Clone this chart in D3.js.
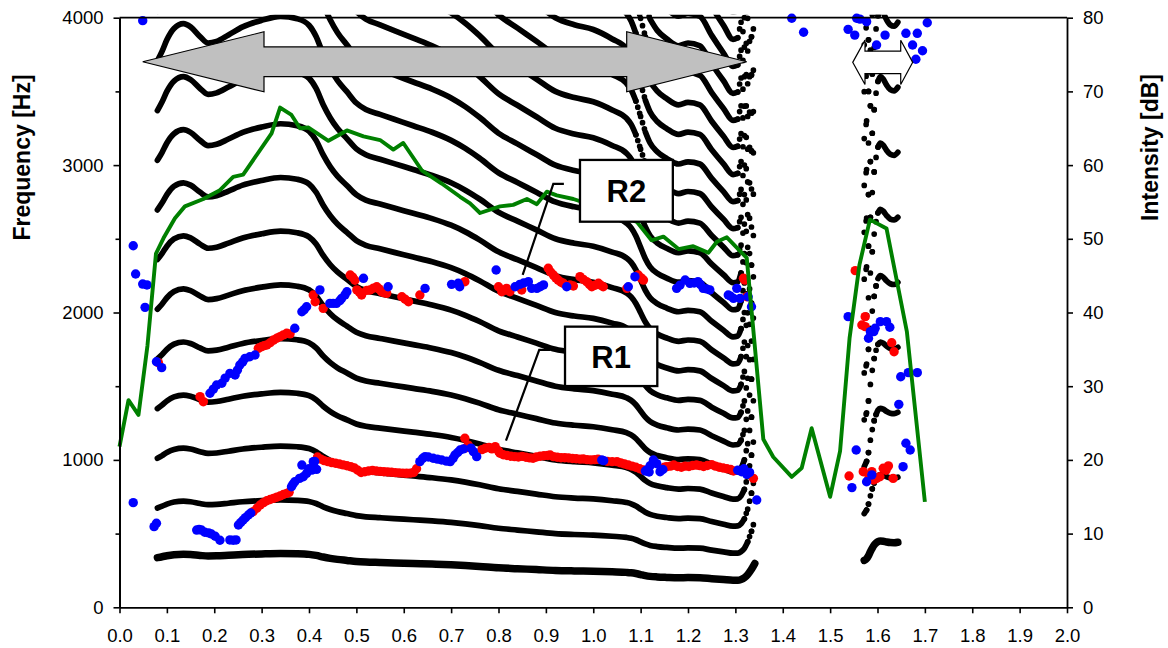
<!DOCTYPE html>
<html><head><meta charset="utf-8">
<script src="https://cdn.jsdelivr.net/npm/d3@7/dist/d3.min.js"></script>
<style>
html,body{margin:0;padding:0;background:#fff;}
svg{display:block;}
</style></head>
<body>
<svg id="chart" width="1168" height="648"></svg>
<script>
// ---------------- DATA ----------------
const timeTicks = [0.0,0.1,0.2,0.3,0.4,0.5,0.6,0.7,0.8,0.9,1.0,1.1,1.2,1.3,1.4,1.5,1.6,1.7,1.8,1.9,2.0];
const freqTicks = [0,1000,2000,3000,4000];
const freqMinorTicks = [500,1500,2500,3500];
const intensityTicks = [0,10,20,30,40,50,60,70,80];
const harmonicNumbers = [1,2,3,4,5,6,7,8,9,10,11,12,13,14,15,16,17,18,19,20,21,22,23,24,25];

// fundamental frequency contour (s, Hz) of the two voiced stretches
const f0Voiced1 = [
[0.080,337],[0.090,343],[0.100,350],[0.115,357],[0.135,360],[0.150,358],[0.170,352],[0.187,348],[0.205,349],[0.230,353],
[0.260,358],[0.300,362],[0.340,364.5],[0.375,363],[0.400,359],[0.415,352],[0.430,341],[0.445,332],[0.460,325],[0.480,318],
[0.500,311],[0.520,307],[0.550,304],[0.580,301],[0.620,297],[0.660,293],[0.700,288],[0.730,283],[0.760,277],[0.800,268],
[0.840,262],[0.880,256],[0.920,250],[0.960,247],[1.000,245],[1.040,241],[1.070,237],[1.080,234],[1.090,229],[1.100,222],
[1.110,215],[1.120,210],[1.135,206],[1.155,203],[1.180,200.5],[1.200,201.5],[1.225,200.5],[1.250,194],[1.275,188],[1.295,183.5],
[1.305,184],[1.312,189],[1.319,200],[1.326,222],[1.334,258],[1.341,297]
];
const f0Voiced2 = [
[1.572,318],[1.577,330],[1.581,350],[1.585,378],[1.589,402],[1.593,422],[1.597,436],[1.601,446],[1.606,450],[1.612,448],
[1.619,443],[1.627,439],[1.635,438],[1.643,441]
];

// intensity (s, dB)
const intensity = [
[0.000,21.8],[0.019,28.1],[0.040,26.1],[0.059,35.5],[0.077,48.0],[0.093,50.1],[0.117,52.8],[0.138,54.4],[0.177,55.4],[0.212,56.6],
[0.240,58.4],[0.261,58.7],[0.321,64.3],[0.339,67.8],[0.363,66.8],[0.381,65.0],[0.399,65.1],[0.441,63.3],[0.480,64.7],[0.515,63.9],
[0.550,63.4],[0.578,62.1],[0.599,63.0],[0.638,59.3],[0.680,57.5],[0.719,55.7],[0.740,54.8],[0.761,53.5],[0.803,54.4],[0.831,54.6],
[0.860,55.4],[0.881,54.7],[0.902,56.4],[0.923,55.9],[0.958,55.4],[1.000,54.5],[1.050,53.5],[1.092,52.3],[1.123,49.8],[1.148,50.3],
[1.180,48.6],[1.211,49.0],[1.243,48.1],[1.261,49.6],[1.282,50.2],[1.324,47.4],[1.359,22.8],[1.380,20.4],[1.419,17.7],[1.440,18.9],
[1.461,24.3],[1.500,15.0],[1.521,21.2],[1.541,36.5],[1.562,46.5],[1.584,52.6],[1.619,51.4],[1.662,37.4],[1.700,14.3]
];

// resonance estimates (s, Hz)
const formantRed = [
[0.082,1660],[0.170,1429],[0.177,1395],
[0.282,649],[0.290,672],[0.297,694],[0.304,710],[0.311,723],[0.318,731],[0.325,739],[0.332,747],[0.339,755],[0.346,765],[0.353,773],[0.358,780],
[0.293,1757],[0.300,1768],[0.305,1775],[0.311,1780],[0.318,1795],[0.325,1813],[0.332,1825],[0.339,1836],[0.346,1848],[0.353,1859],[0.360,1855],
[0.409,2119],[0.413,2073],[0.430,2028],
[0.418,1020],[0.425,1005],[0.432,995],[0.440,988],[0.448,982],[0.456,977],[0.464,972],[0.472,966],[0.480,960],[0.488,954],[0.496,945],[0.503,930],[0.510,915],[0.518,920],[0.526,925],[0.534,928],[0.542,925],[0.550,922],[0.558,920],[0.566,918],[0.574,916],[0.582,914],[0.590,912],[0.598,910],[0.606,909],[0.614,910],[0.621,915],[0.627,940],
[0.487,2254],[0.492,2240],[0.497,2219],[0.501,2153],[0.506,2140],[0.511,2119],[0.522,2150],[0.529,2153],[0.536,2165],[0.543,2175],[0.548,2160],[0.553,2141],[0.558,2135],[0.564,2130],[0.596,2107],[0.603,2090],[0.610,2073],[0.634,2119],
[0.729,1147],[0.733,1083],[0.736,1100],[0.729,2209],
[0.765,1070],[0.772,1079],[0.780,1085],[0.786,1075],[0.793,1090],[0.800,1060],[0.803,1045],[0.810,1035],[0.818,1030],[0.826,1025],[0.834,1022],[0.842,1020],[0.850,1024],[0.858,1018],[0.866,1014],[0.873,1011],[0.880,1020],[0.888,1025],[0.896,1028],[0.904,1030],[0.909,1033],[0.916,1022],[0.924,1018],[0.932,1015],[0.940,1015],[0.948,1013],[0.956,1010],[0.964,1008],[0.972,1005],[0.979,1006],[0.987,1002],[0.995,1000],[1.003,1002],[1.010,1004],
[0.800,2175],[0.807,2141],[0.812,2150],[0.817,2164],[0.824,2141],[0.849,2153],
[0.905,2300],[0.910,2275],[0.916,2254],[0.921,2235],[0.926,2220],[0.932,2205],[0.937,2198],[0.951,2187],[0.958,2180],[0.972,2243],[0.979,2225],[0.986,2209],[0.992,2190],[0.997,2175],[1.004,2185],[1.011,2198],[1.016,2185],[1.021,2175],
[1.030,990],[1.040,988],[1.050,988],[1.058,980],[1.066,972],[1.074,965],[1.082,958],[1.090,950],[1.098,940],[1.106,931],
[1.071,2164],[1.095,2254],[1.101,2235],[1.106,2220],
[1.150,950],[1.155,954],[1.163,958],[1.170,965],[1.178,955],[1.186,950],[1.194,958],[1.202,955],[1.210,962],[1.218,965],[1.225,961],[1.233,955],[1.241,962],[1.250,968],[1.258,958],[1.266,950],[1.274,945],[1.282,940],[1.290,935],[1.296,925],
[1.317,2232],[1.320,2220],[1.324,2107],[1.338,875],
[1.553,2284],[1.574,1972],[1.567,1915],[1.574,1904],[1.630,1795],[1.635,1734],
[1.540,891],[1.570,920],[1.582,878],[1.588,920],[1.592,864],[1.598,875],[1.605,886],[1.612,943],[1.618,930],[1.623,959],[1.633,875]
];
const formantBlue = [
[0.049,3980],[0.029,2453],[0.034,2261],[0.049,2193],[0.058,2187],[0.054,2035],[0.078,1666],[0.089,1626],
[0.029,710],[0.073,547],[0.078,570],
[0.163,524],[0.168,528],[0.173,524],[0.180,509],[0.188,505],[0.194,497],[0.202,482],[0.212,455],[0.233,457],[0.240,455],[0.246,457],
[0.251,558],[0.256,575],[0.261,592],[0.266,608],[0.272,626],[0.277,640],
[0.363,818],[0.366,835],[0.370,852],[0.380,875],[0.388,886],[0.395,909],[0.385,965],[0.400,940],[0.406,931],[0.409,988],[0.412,990],[0.416,936],
[0.191,1452],[0.198,1480],[0.205,1508],[0.216,1520],[0.223,1555],[0.233,1587],[0.244,1576],[0.249,1610],[0.254,1644],[0.260,1665],[0.265,1689],[0.275,1700],[0.286,1712],
[0.370,1893],[0.385,2005],[0.390,2020],[0.395,2039],[0.423,2153],
[0.444,2062],[0.451,2062],[0.458,2062],[0.465,2080],[0.469,2096],[0.476,2120],[0.480,2141],[0.515,2232],
[0.567,2175],[0.645,2164],
[0.634,988],[0.640,1010],[0.645,1022],[0.652,1020],[0.662,1011],[0.671,1005],[0.680,999],[0.690,992],[0.698,988],[0.704,1010],[0.708,1033],[0.714,1050],[0.719,1067],[0.726,1075],
[0.742,1080],[0.747,1056],[0.754,1022],
[0.701,2191],[0.715,2198],[0.718,2175],[0.795,2288],
[0.835,2175],[0.845,2191],[0.853,2200],[0.863,2209],[0.870,2164],[0.881,2164],[0.888,2175],[0.895,2187],[0.944,2175],
[1.018,999],[1.022,995],[1.074,2175],[1.088,2243],
[1.110,925],[1.113,931],[1.118,918],[1.120,960],[1.127,999],[1.134,975],[1.141,920],[1.147,935],
[1.176,2164],[1.183,2185],[1.194,2220],[1.204,2198],[1.213,2200],[1.221,2209],[1.226,2190],[1.232,2164],[1.239,2160],[1.246,2153],
[1.285,2119],[1.290,2110],[1.296,2096],[1.303,2164],[1.310,2096],[1.327,2107],[1.334,2039],
[1.305,930],[1.313,920],[1.318,940],[1.324,902],[1.330,915],[1.345,728],
[1.419,3996],[1.444,3901],[1.538,3921],[1.552,3882],[1.556,3996],[1.563,3990],[1.577,3973],[1.598,3815],[1.616,3882],[1.660,3894],[1.684,3894],[1.674,3815],[1.695,3776],[1.681,3718],[1.705,3966],
[1.538,1972],[1.581,1825],[1.585,1870],[1.592,1870],[1.595,1893],[1.606,1938],[1.619,1938],[1.626,1900],[1.649,1564],[1.665,1592],[1.684,1592],[1.645,1377],[1.660,1113],[1.669,1067],[1.555,1067],[1.654,954],[1.546,812],[1.577,852],[1.588,898]
];

// ---------------- DRAWING ----------------
const FONT = '"Liberation Sans", Arial, Helvetica, sans-serif';
const svg = d3.select("#chart");
const L = 119.5, R = 1067, T = 17.7, B = 607.3;
const x = d3.scaleLinear().domain([0, 2]).range([L, R]);
const yF = d3.scaleLinear().domain([0, 4000]).range([B, T]);
const yI = d3.scaleLinear().domain([0, 80]).range([B, T]);

svg.append("defs").append("clipPath").attr("id", "plotClip")
  .append("rect").attr("x", L).attr("y", T - 3).attr("width", R - L).attr("height", B - T + 3);

// harmonics (k * F0), drawn as frame markers: dotted where the track moves fast
const frameStep = 0.004;
const lineGen = d3.line().x(d => x(d[0])).y(d => yF(d[1]));
const smoothGen = d3.line().x(d => x(d[0])).y(d => yF(d[1])).curve(d3.curveMonotoneX);
const gH = svg.append("g").attr("clip-path", "url(#plotClip)")
  .attr("fill", "none").attr("stroke", "#000").attr("stroke-linecap", "round").attr("stroke-linejoin", "round");

function drawVoiced(f0) {
  harmonicNumbers.forEach(k => {
    const pts = f0.map(([t, f]) => [t, k * f]);
    if (d3.min(pts, d => d[1]) > 4100) return;
    const w = k === 1 ? 7.5 : 5.7;
    let run = [pts[0]];
    const flush = () => {
      if (run.length > 1) gH.append("path").attr("d", smoothGen(run)).attr("stroke-width", w);
    };
    for (let i = 0; i < pts.length - 1; i++) {
      const a = pts[i], b = pts[i + 1];
      const n = (b[0] - a[0]) / frameStep;
      const len = Math.hypot(x(b[0]) - x(a[0]), yF(b[1]) - yF(a[1]));
      const s = len / n;
      if (s > 5.6) {
        flush();
        run = [b];
        gH.append("path").attr("d", lineGen([a, b])).attr("stroke-width", w)
          .attr("stroke-dasharray", `0 ${s.toFixed(2)}`);
      } else {
        run.push(b);
      }
    }
    flush();
  });
}
drawVoiced(f0Voiced1);
drawVoiced(f0Voiced2);

// resonance dots
const rDot = 4.7;
svg.append("g").selectAll("circle").data(formantRed).join("circle")
  .attr("cx", d => x(d[0])).attr("cy", d => yF(d[1])).attr("r", rDot).attr("fill", "#ff0000");
svg.append("g").selectAll("circle").data(formantBlue).join("circle")
  .attr("cx", d => x(d[0])).attr("cy", d => yF(d[1])).attr("r", rDot).attr("fill", "#0000ff");

// intensity line
svg.append("path").datum(intensity)
  .attr("d", d3.line().x(d => x(d[0])).y(d => yI(d[1])))
  .attr("fill", "none").attr("stroke", "#008000").attr("stroke-width", 3.9).attr("stroke-linejoin", "round");

// axes
function styleAxis(g) {
  g.attr("font-family", FONT).attr("font-size", 18.5);
  g.selectAll("text").attr("fill", "#000");
  g.selectAll("line").attr("stroke", "#000").attr("stroke-width", 1.6);
  g.select(".domain").attr("stroke", "#000").attr("stroke-width", 1.8);
}
svg.append("g").attr("transform", `translate(0,${B})`)
  .call(d3.axisBottom(x).tickValues(timeTicks).tickFormat(d3.format(".1f")).tickSize(6).tickSizeOuter(0).tickPadding(16))
  .call(styleAxis);
svg.append("g").attr("transform", `translate(${L},0)`)
  .call(d3.axisLeft(yF).tickValues(freqMinorTicks).tickFormat("").tickSize(4).tickSizeOuter(0))
  .call(styleAxis);
svg.append("g").attr("transform", `translate(${L},0)`)
  .call(d3.axisLeft(yF).tickValues(freqTicks).tickFormat(d3.format("d")).tickSize(6).tickSizeOuter(0).tickPadding(10))
  .call(styleAxis);
svg.append("g").attr("transform", `translate(${R},0)`)
  .call(d3.axisRight(yI).tickValues(intensityTicks).tickFormat(d3.format("d")).tickSize(6).tickSizeOuter(0).tickPadding(10))
  .call(styleAxis);
svg.append("line").attr("x1", L).attr("x2", R).attr("y1", T).attr("y2", T)
  .attr("stroke", "#000").attr("stroke-width", 1.8);

// axis titles
svg.append("text").attr("transform", `translate(29.5,157.5) rotate(-90)`)
  .attr("text-anchor", "middle").attr("font-family", FONT).attr("font-weight", "bold").attr("font-size", 23)
  .text("Frequency [Hz]");
svg.append("text").attr("transform", `translate(1158,147.5) rotate(-90)`)
  .attr("text-anchor", "middle").attr("font-family", FONT).attr("font-weight", "bold").attr("font-size", 23)
  .text("Intensity [dB]");

// annotations: leader lines + labelled boxes
const ann = svg.append("g");
function leader(p) {
  ann.append("path").attr("d", lineGen(p)).attr("fill", "none").attr("stroke", "#000").attr("stroke-width", 2.2);
}
function box(t0, t1, f0, f1, label) {
  ann.append("rect").attr("x", x(t0)).attr("y", yF(f0)).attr("width", x(t1) - x(t0)).attr("height", yF(f1) - yF(f0))
    .attr("fill", "#fff").attr("stroke", "#000").attr("stroke-width", 2.3);
  ann.append("text").attr("x", (x(t0) + x(t1)) / 2).attr("y", (yF(f0) + yF(f1)) / 2).attr("dy", "0.36em")
    .attr("text-anchor", "middle").attr("font-family", FONT).attr("font-weight", "bold").attr("font-size", 31)
    .text(label);
}
leader([[0.851, 2255], [0.9157, 2872], [0.938, 2872]]);
leader([[0.8158, 1130], [0.886, 1746], [0.9087, 1746]]);
box(0.972, 1.168, 3035, 2616, "R2");
box(0.9404, 1.1352, 1904, 1501, "R1");

// double arrows
function dblArrow(tL, tR, tBaseL, tBaseR, fc, headH, shaftH, fill) {
  const xl = x(tL), xr = x(tR), bl = x(tBaseL), br = x(tBaseR), cy = yF(fc);
  const p = d3.path();
  p.moveTo(xl, cy);
  p.lineTo(bl, cy - headH); p.lineTo(bl, cy - shaftH); p.lineTo(br, cy - shaftH); p.lineTo(br, cy - headH);
  p.lineTo(xr, cy);
  p.lineTo(br, cy + headH); p.lineTo(br, cy + shaftH); p.lineTo(bl, cy + shaftH); p.lineTo(bl, cy + headH);
  p.closePath();
  svg.append("path").attr("d", p.toString()).attr("fill", fill).attr("stroke", "#000").attr("stroke-width", 1.2)
    .attr("stroke-linejoin", "miter");
}
dblArrow(0.049, 1.324, 0.305, 1.0706, 3701, 30, 14.8, "#c0c0c0");
dblArrow(1.5477, 1.6743, 1.5736, 1.649, 3697, 22.2, 11.2, "#ffffff");
</script>
</body></html>
